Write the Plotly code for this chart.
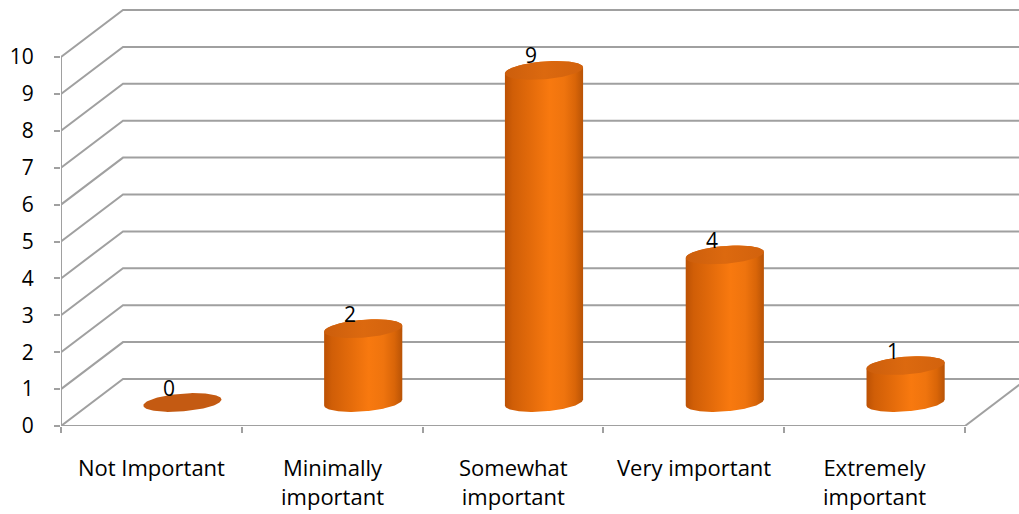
import numpy as np
import plotly.graph_objects as go

# Survey responses
categories = ["Not Important", "Minimally<br>important", "Somewhat<br>important",
              "Very important", "Extremely<br>important"]
counts = [0, 2, 9, 4, 1]
y_ticks = list(range(0, 11))

# Oblique "3D" projection in data units
DEPTH_X = 0.343     # back wall shift along x (category units)
DEPTH_Y = 1.274     # back wall shift along y (value units)
X_MIN, X_MAX = -0.5, 4.7987
Y_MAX = 11.545
RADIUS_X = 0.205    # cylinder half-width along x
RADIUS_D = 0.2      # cylinder half-depth as fraction of full depth

GRID = "rgb(160,160,160)"
FONT = "Open Sans, Calibri, sans-serif"

fig = go.Figure()
shapes = []

# Back wall gridlines, bent along the left wall
for v in y_ticks:
    shapes.append(dict(
        type="path", xref="x", yref="y",
        path=f"M {X_MIN},{v} L {X_MIN + DEPTH_X},{v + DEPTH_Y} L {X_MAX + 1},{v + DEPTH_Y}",
        line=dict(color=GRID, width=2), layer="below"))

# Floor front edge, right edge and vertical axis line
n = len(categories)
shapes.append(dict(type="line", xref="x", yref="y", x0=X_MIN, y0=0, x1=n - 0.5, y1=0,
                   line=dict(color=GRID, width=2), layer="below"))
shapes.append(dict(type="line", xref="x", yref="y", x0=n - 0.5, y0=0,
                   x1=n - 0.5 + DEPTH_X, y1=DEPTH_Y,
                   line=dict(color=GRID, width=2), layer="below"))
shapes.append(dict(type="line", xref="x", yref="y", x0=X_MIN, y0=0, x1=X_MIN, y1=max(y_ticks),
                   line=dict(color=GRID, width=2), layer="below"))

body_scale = [[0.0, "#BC5104"], [0.1, "#D05E07"], [0.35, "#E56C0B"],
              [0.57, "#F8790F"], [0.76, "#EF740E"], [0.9, "#D96508"], [1.0, "#B85306"]]
top_scale = [[0.0, "#CC5E0C"], [0.5, "#DC690F"], [1.0, "#D2620D"]]

ax, ay = RADIUS_X, 0.0
bx, by = RADIUS_D * DEPTH_X, RADIUS_D * DEPTH_Y
t_star = np.arctan2(bx, ax)


def ellipse(cx, cy, t):
    return cx + ax * np.cos(t) + bx * np.sin(t), cy + ay * np.cos(t) + by * np.sin(t)


for i, v in enumerate(counts):
    cx = i + DEPTH_X / 2
    cy0 = DEPTH_Y / 2
    cy1 = v + DEPTH_Y / 2
    if v > 0:
        t_front = np.linspace(t_star + np.pi, t_star + 2 * np.pi, 80)
        t_back = np.linspace(t_star, t_star + np.pi, 80)
        xb, yb = ellipse(cx, cy0, t_front)
        xt, yt = ellipse(cx, cy1, t_back)
        xs = np.concatenate([xb, xt, xb[:1]])
        ys = np.concatenate([yb, yt, yb[:1]])
        fig.add_trace(go.Scatter(
            x=xs, y=ys, mode="lines", fill="toself", line=dict(width=0),
            fillgradient=dict(type="horizontal", colorscale=body_scale),
            hoverinfo="skip", showlegend=False))
        tt = np.linspace(0, 2 * np.pi, 120)
        xe, ye = ellipse(cx, cy1, tt)
        fig.add_trace(go.Scatter(
            x=xe, y=ye, mode="lines", fill="toself", line=dict(width=0),
            fillgradient=dict(type="horizontal", colorscale=top_scale),
            hoverinfo="skip", showlegend=False))
    else:
        tt = np.linspace(0, 2 * np.pi, 120)
        xe, ye = ellipse(cx, cy1, tt)
        fig.add_trace(go.Scatter(
            x=xe, y=ye, mode="lines", fill="toself", line=dict(width=0),
            fillcolor="#C45A12", hoverinfo="skip", showlegend=False))

annotations = []
for i, v in enumerate(counts):
    annotations.append(dict(
        x=i + DEPTH_X / 2 - 0.072, y=v + DEPTH_Y / 2, xref="x", yref="y",
        text=str(v), showarrow=False, yanchor="bottom", yshift=-1,
        font=dict(family=FONT, size=21, color="black")))
for i, label in enumerate(categories):
    annotations.append(dict(
        x=i, y=0, xref="x", yref="y", text=label, showarrow=False,
        yanchor="top", yshift=-24, align="center",
        font=dict(family=FONT, size=22, color="black")))

fig.update_layout(
    width=1019, height=514,
    margin=dict(l=61, r=0, t=0, b=88),
    paper_bgcolor="white", plot_bgcolor="white",
    shapes=shapes, annotations=annotations,
    font=dict(family=FONT, size=21, color="black"),
    xaxis=dict(range=[X_MIN, X_MAX], showgrid=False, zeroline=False, showline=False,
               tickvals=[k - 0.5 for k in range(n + 1)], showticklabels=False,
               ticks="outside", ticklen=6, tickwidth=2, tickcolor=GRID, fixedrange=True),
    yaxis=dict(range=[0, Y_MAX], showgrid=False, zeroline=False, showline=False,
               tickvals=y_ticks, ticktext=[str(t) for t in y_ticks],
               ticks="outside", ticklen=6, tickwidth=2, tickcolor=GRID,
               ticklabelstandoff=16, tickfont=dict(family=FONT, size=21),
               fixedrange=True),
)

fig.write_html("out.html")
